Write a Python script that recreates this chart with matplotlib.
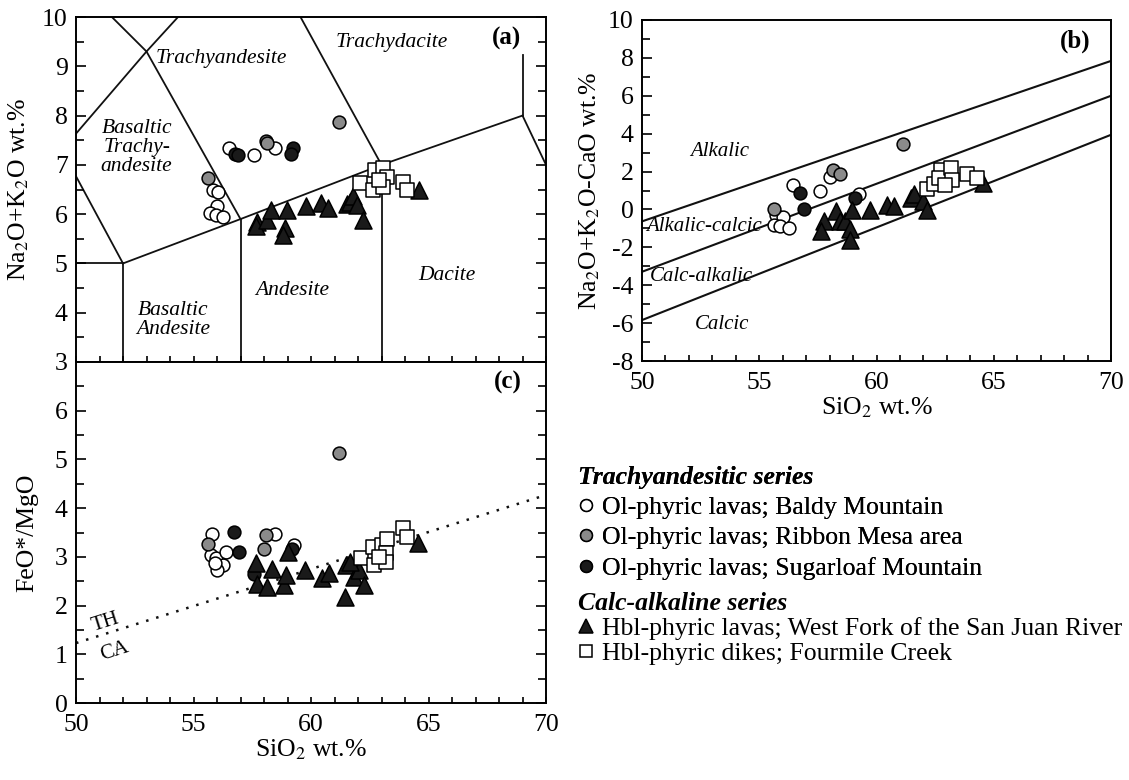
import matplotlib
matplotlib.use("Agg")
import matplotlib.pyplot as plt
from matplotlib.lines import Line2D
from matplotlib.ticker import MultipleLocator

plt.rcParams["font.family"] = ["Liberation Serif", "DejaVu Serif"]
plt.rcParams["mathtext.fontset"] = "stix"
plt.rcParams["axes.unicode_minus"] = False

# ---- (a) TAS diagram ----
a_baldy_si = [56.53, 57.57, 58.47, 55.84, 56.06, 56.01, 55.70, 55.96, 56.24]
a_baldy_alk = [7.34, 7.20, 7.34, 6.50, 6.44, 6.17, 6.03, 5.98, 5.94]
a_ribbon_si = [55.63, 58.09, 58.14, 61.19]
a_ribbon_alk = [6.73, 7.49, 7.45, 7.86]
a_sugar_si = [56.77, 56.90, 59.25, 59.15]
a_sugar_alk = [7.23, 7.20, 7.34, 7.22]
a_hbl_si = [57.72, 57.66, 58.14, 58.28, 58.96, 58.89, 58.82, 59.79, 60.41, 60.73,
            61.52, 61.66, 61.80, 61.94, 62.20, 64.58]
a_hbl_alk = [5.85, 5.75, 5.88, 6.09, 6.09, 5.71, 5.58, 6.17, 6.22, 6.12,
             6.20, 6.25, 6.36, 6.19, 5.88, 6.48]
a_dike_si = [62.09, 62.72, 63.08, 63.22, 62.65, 63.08, 63.93, 64.07, 62.90]
a_dike_alk = [6.63, 6.90, 6.93, 6.76, 6.49, 6.56, 6.66, 6.50, 6.70]

# TAS field boundaries (SiO2, Na2O+K2O)
tas_lines = [
    ([45, 52], [5, 5]),
    ([52, 52], [0, 5]),
    ([57, 57], [0, 5.9]),
    ([63, 63], [0, 7]),
    ([52, 57, 63, 69], [5, 5.9, 7, 8]),
    ([69, 77], [8, 0]),
    ([69, 69], [8, 9.22]),
    ([49.4, 52], [7.3, 5]),
    ([45, 49.4, 53, 57.6], [5, 7.3, 9.3, 11.7]),
    ([49.0, 53, 57], [11.2, 9.3, 5.9]),
    ([57.6, 63], [11.7, 7]),
]
tas_names = ["Trachyandesite", "Trachydacite", "Basaltic\nTrachy-\nandesite",
             "Basaltic\nAndesite", "Andesite", "Dacite"]
tas_name_x = [56.2, 63.44, 52.58, 54.14, 59.18, 65.78]
tas_name_y = [9.15, 9.49, 7.36, 3.85, 4.46, 4.75]

# ---- (b) MALI diagram ----
b_baldy_si = [56.42, 57.58, 58.00, 55.72, 56.03, 55.65, 55.90, 56.26, 59.26]
b_baldy_v = [1.31, 0.99, 1.69, -0.27, -0.41, -0.80, -0.89, -0.98, 0.80]
b_ribbon_si = [55.65, 58.15, 58.46, 61.14]
b_ribbon_v = [0.04, 2.10, 1.89, 3.45]
b_sugar_si = [56.73, 56.91, 59.08]
b_sugar_v = [0.87, 0.00, 0.60]
b_hbl_si = [57.78, 57.62, 58.28, 58.43, 58.65, 58.89, 58.96, 58.89, 59.74, 60.44,
            60.75, 61.45, 61.60, 61.99, 62.14, 64.54]
b_hbl_v = [-0.63, -1.15, -0.10, -0.63, -0.63, -1.05, -0.05, -1.59, -0.01, 0.25,
           0.16, 0.60, 0.81, 0.43, -0.01, 1.39]
b_dike_si = [62.17, 62.45, 62.73, 62.68, 63.19, 63.22, 63.84, 64.28, 62.90]
b_dike_v = [1.08, 1.34, 2.10, 1.66, 2.19, 1.57, 1.87, 1.66, 1.30]

mali_x = [50, 70]
mali_lines = [[-0.63, 7.84], [-3.29, 6.00], [-5.84, 3.94]]
mali_names = ["Alkalic", "Alkalic-calcic", "Calc-alkalic", "Calcic"]
mali_name_x = [53.33, 52.63, 52.55, 53.40]
mali_name_y = [3.06, -0.89, -3.52, -6.07]

# ---- (c) FeO*/MgO diagram ----
c_baldy_si = [55.78, 55.73, 55.96, 56.27, 56.01, 56.37, 58.47, 55.90, 59.26]
c_baldy_v = [3.46, 3.03, 2.97, 2.83, 2.73, 3.10, 3.46, 2.88, 3.24]
c_ribbon_si = [55.63, 58.09, 58.01, 61.20]
c_ribbon_v = [3.27, 3.44, 3.17, 5.13]
c_sugar_si = [56.72, 56.92, 59.20, 57.59]
c_sugar_v = [3.51, 3.10, 3.17, 2.64]
c_hbl_si = [57.68, 57.71, 58.14, 58.32, 58.85, 58.93, 59.00, 59.76, 60.45, 60.78,
            61.51, 61.82, 62.04, 62.24, 61.44, 64.56, 61.67]
c_hbl_v = [2.88, 2.45, 2.39, 2.76, 2.42, 2.62, 3.10, 2.73, 2.56, 2.67,
           2.83, 2.59, 2.73, 2.42, 2.18, 3.29, 2.90]
c_dike_si = [62.12, 62.65, 62.70, 63.03, 63.22, 63.19, 63.19, 63.92, 64.08, 62.88]
c_dike_v = [2.97, 3.20, 2.83, 3.24, 3.37, 3.07, 2.90, 3.59, 3.41, 3.00]

thca_x = [50, 70]
thca_y = [1.23, 4.27]

legend_labels = ["Ol-phyric lavas; Baldy Mountain",
                 "Ol-phyric lavas; Ribbon Mesa area",
                 "Ol-phyric lavas; Sugarloaf Mountain",
                 "Hbl-phyric lavas; West Fork of the San Juan River",
                 "Hbl-phyric dikes; Fourmile Creek"]

styles = [
    dict(marker="o", facecolor="white", s=85),
    dict(marker="o", facecolor="#8a8a8a", s=85),
    dict(marker="o", facecolor="#1a1a1a", s=85),
    dict(marker="^", facecolor="#1a1a1a", s=150),
    dict(marker="s", facecolor="white", s=95),
]

W, H = 1129, 780
fig = plt.figure(figsize=(W / 100, H / 100), dpi=100)


def px_axes(l, t, r, b):
    return fig.add_axes([l / W, 1 - b / H, (r - l) / W, (b - t) / H])


axa = px_axes(76, 17, 546, 362)
axc = px_axes(76, 362, 546, 703)
axb = px_axes(642, 20, 1111, 361)

FS = 18.5


def draw_series(ax, groups):
    for (xs, ys), st in zip(groups, styles):
        ax.scatter(xs, ys, marker=st["marker"], s=st["s"], c=st["facecolor"],
                   edgecolors="black", linewidths=1.1, zorder=3)


def style_axes(ax, right_ticks):
    for sp in ax.spines.values():
        sp.set_linewidth(1.4)
    ax.set_xlim(50, 70)
    ax.xaxis.set_major_locator(MultipleLocator(5))
    ax.xaxis.set_minor_locator(MultipleLocator(1))
    ax.tick_params(axis="x", which="both", direction="in", length=4.5, width=1.2,
                   top=False, labelsize=FS, pad=8)
    ax.tick_params(axis="y", which="major", direction="in", length=7, width=1.2,
                   right=right_ticks, labelsize=FS, pad=6)
    ax.tick_params(axis="y", which="minor", direction="in", length=5.5, width=1.2,
                   right=right_ticks)


# panel (a)
for xs, ys in tas_lines:
    axa.plot(xs, ys, color="#111111", lw=1.3, zorder=1)
for name, x, y in zip(tas_names, tas_name_x, tas_name_y):
    axa.text(x, y, name, style="italic", fontsize=15.5, ha="center", va="center",
             linespacing=1.0)
draw_series(axa, [(a_baldy_si, a_baldy_alk), (a_ribbon_si, a_ribbon_alk),
                  (a_sugar_si, a_sugar_alk), (a_hbl_si, a_hbl_alk),
                  (a_dike_si, a_dike_alk)])
axa.set_ylim(3, 10)
style_axes(axa, True)
axa.yaxis.set_major_locator(MultipleLocator(1))
axa.yaxis.set_minor_locator(MultipleLocator(0.5))
axa.tick_params(axis="x", labelbottom=False)
axa.set_ylabel("Na$_2$O+K$_2$O wt.%", fontsize=FS, labelpad=8)
axa.text(68.3, 9.56, "(a)", fontsize=18, fontweight="bold", ha="center", va="center")

# panel (c)
axc.plot(thca_x, thca_y, color="#111111", lw=1.8, ls=(0, (1, 3.2)), zorder=1)
axc.text(51.25, 1.66, "TH", fontsize=15, rotation=17.5, ha="center", va="center")
axc.text(51.63, 1.07, "CA", fontsize=15, rotation=17.5, ha="center", va="center")
draw_series(axc, [(c_baldy_si, c_baldy_v), (c_ribbon_si, c_ribbon_v),
                  (c_sugar_si, c_sugar_v), (c_hbl_si, c_hbl_v),
                  (c_dike_si, c_dike_v)])
axc.set_ylim(0, 7)
style_axes(axc, True)
axc.set_yticks(range(0, 7))
axc.yaxis.set_minor_locator(MultipleLocator(0.5))
axc.set_ylabel("FeO*/MgO", fontsize=FS, labelpad=12)
axc.set_xlabel("SiO$_2$ wt.%", fontsize=FS, labelpad=1)
axc.text(68.36, 6.58, "(c)", fontsize=18, fontweight="bold", ha="center", va="center")

# panel (b)
for ys in mali_lines:
    axb.plot(mali_x, ys, color="#111111", lw=1.5, zorder=1)
for name, x, y in zip(mali_names, mali_name_x, mali_name_y):
    axb.text(x, y, name, style="italic", fontsize=15, ha="center", va="center")
draw_series(axb, [(b_baldy_si, b_baldy_v), (b_ribbon_si, b_ribbon_v),
                  (b_sugar_si, b_sugar_v), (b_hbl_si, b_hbl_v),
                  (b_dike_si, b_dike_v)])
axb.set_ylim(-8, 10)
style_axes(axb, False)
axb.yaxis.set_major_locator(MultipleLocator(2))
axb.yaxis.set_minor_locator(MultipleLocator(1))
axb.set_ylabel("Na$_2$O+K$_2$O-CaO wt.%", fontsize=FS, labelpad=4)
axb.set_xlabel("SiO$_2$ wt.%", fontsize=FS, labelpad=1)
axb.text(68.48, 8.86, "(b)", fontsize=18, fontweight="bold", ha="center", va="center")

# legend
handles = [Line2D([], [], ls="none", marker=st["marker"], markerfacecolor=st["facecolor"],
                  markeredgecolor="black", markeredgewidth=1.1,
                  markersize=8.5 if st["marker"] != "^" else 10)
           for st in styles]
title_font = dict(weight="bold", style="italic", size=FS)
leg1 = fig.legend(handles[:3], legend_labels[:3], loc="upper left",
                  bbox_to_anchor=(578 / W, 1 - 466 / H), frameon=False, fontsize=FS,
                  title="Trachyandesitic series", title_fontproperties=title_font,
                  alignment="left", handlelength=0.6, handletextpad=0.35,
                  labelspacing=0.28, borderpad=0, borderaxespad=0)
fig.add_artist(leg1)
fig.legend(handles[3:], legend_labels[3:], loc="upper left",
           bbox_to_anchor=(578 / W, 1 - 592 / H), frameon=False, fontsize=FS,
           title="Calc-alkaline series", title_fontproperties=title_font,
           alignment="left", handlelength=0.6, handletextpad=0.35,
           labelspacing=0.08, borderpad=0, borderaxespad=0)

fig.savefig("out.png", dpi=100)
